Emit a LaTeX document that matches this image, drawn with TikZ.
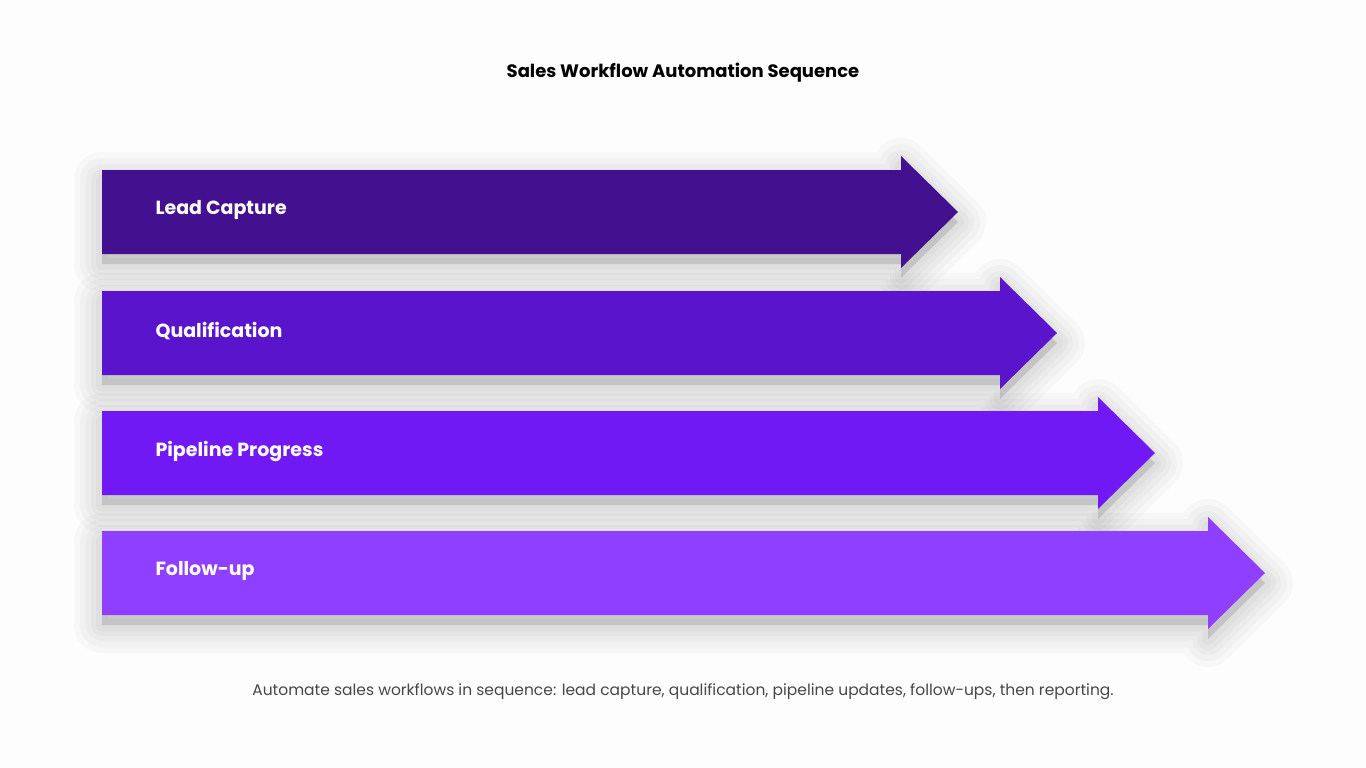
\documentclass[tikz,border=0pt]{standalone}
\usepackage{fontspec}
\setmainfont{Poppins}
\begin{document}
\begin{tikzpicture}[x=1pt,y=-1pt,
  lbl/.style={anchor=west,text=white,font=\fontsize{19}{22}\selectfont\bfseries},
  shad/.style={draw=black,fill=black,line join=round,opacity=0.025}]
\fill[white!97!gray!60] (0,0) rectangle (1366,768);
\useasboundingbox (0,0) rectangle (1366,768);
\newcommand\arrowpath[2]{(102,#1-42) -- (#2-57,#1-42) -- (#2-57,#1-56) -- (#2,#1) -- (#2-57,#1+56) -- (#2-57,#1+42) -- (102,#1+42) -- cycle}
\foreach \yy/\tx in {212/958,333/1057,453/1155,573/1265}{
  \foreach \w in {56,44,32,22,12}{
    \draw[shad,line width=\w,shift={(0,10)}] \arrowpath{\yy}{\tx};
  }
}
\definecolor{c1}{HTML}{43108F}
\definecolor{c2}{HTML}{5A14CC}
\definecolor{c3}{HTML}{7119F5}
\definecolor{c4}{HTML}{8E3FFF}
\fill[c1] \arrowpath{212}{958};
\fill[c2] \arrowpath{333}{1057};
\fill[c3] \arrowpath{453}{1155};
\fill[c4] \arrowpath{573}{1265};
\node[lbl] (a) at (152,210) {Lead Capture};
\node[lbl] (b) at (152,331) {Qualification};
\node[lbl] (c) at (152,451) {Pipeline Progress};
\node[lbl] (d) at (152,571) {Follow-up};
\node[font=\fontsize{18}{22}\selectfont\bfseries] (t) at (683,73) {Sales Workflow Automation Sequence};
\node[text=black!72,font=\fontsize{15.5}{20}\selectfont] (s) at (683,692) {Automate sales workflows in sequence: lead capture, qualification, pipeline updates, follow-ups, then reporting.};
\end{tikzpicture}
\end{document}
